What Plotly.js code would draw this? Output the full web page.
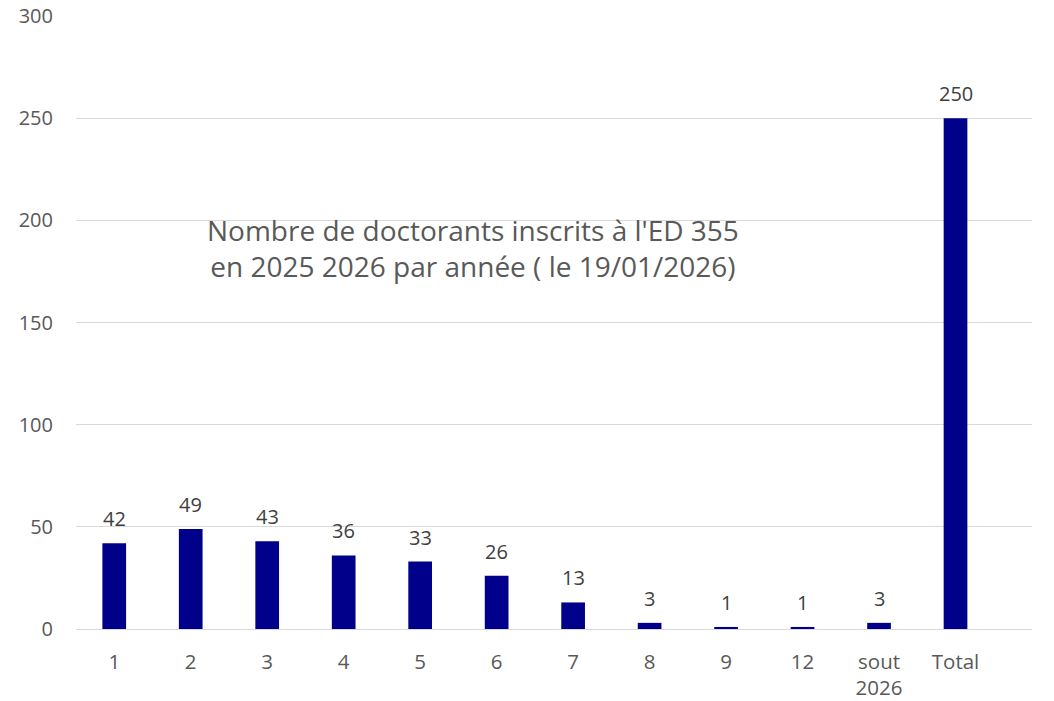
<!DOCTYPE html>
<html>
<head>
<meta charset="utf-8">
<script src="https://cdn.plot.ly/plotly-3.0.1.min.js"></script>
<style>html,body{margin:0;padding:0;background:#fff;}#chart{width:1054px;height:701px;}</style>
</head>
<body>
<div id="chart"></div>
<script>
const categories = ["1", "2", "3", "4", "5", "6", "7", "8", "9", "12", "sout<br>2026", "Total"];
const counts = [42, 49, 43, 36, 33, 26, 13, 3, 1, 1, 3, 250];
const yTicks = [0, 50, 100, 150, 200, 250, 300];
const chartTitle = "Nombre de doctorants inscrits à l'ED 355<br>en 2025 2026 par année ( le 19/01/2026)";

const FONT = "Open Sans, sans-serif";

const trace = {
  type: "bar",
  x: categories,
  y: counts,
  width: 0.31,
  marker: {color: "#00008B", line: {width: 0}},
  hoverinfo: "x+y"
};

const labels = categories.map((c, i) => ({
  x: i, y: counts[i], xref: "x", yref: "y",
  text: String(counts[i]), showarrow: false,
  yanchor: "bottom", yshift: 9,
  font: {family: FONT, size: 20, color: "#404040"}
}));

const layout = {
  width: 1054, height: 701,
  margin: {l: 76, r: 22, t: 16, b: 72},
  paper_bgcolor: "#fff", plot_bgcolor: "#fff",
  showlegend: false,
  xaxis: {
    type: "category",
    range: [-0.5, 12.0],
    showgrid: false,
    showline: true, linecolor: "#d9d9d9", linewidth: 1,
    ticks: "",
    tickfont: {family: FONT, size: 20.5, color: "#595959"},
    ticklabelstandoff: 14,
    fixedrange: true
  },
  yaxis: {
    range: [0, 300],
    tickvals: yTicks,
    showgrid: true, gridcolor: "#d9d9d9", gridwidth: 1,
    zeroline: false,
    showline: false,
    ticks: "",
    tickfont: {family: FONT, size: 20, color: "#595959"},
    ticklabelstandoff: 22,
    fixedrange: true
  },
  annotations: labels.concat([{
    xref: "paper", yref: "paper",
    x: 0.415, y: 0.6215,
    xanchor: "center", yanchor: "middle",
    text: chartTitle, showarrow: false,
    align: "center",
    font: {family: FONT, size: 28, color: "#595959"}
  }])
};

Plotly.newPlot("chart", [trace], layout, {displayModeBar: false, staticPlot: true});
</script>
</body>
</html>
